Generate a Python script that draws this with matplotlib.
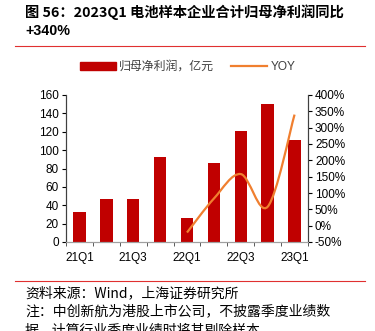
import numpy as np
import matplotlib.pyplot as plt
from matplotlib.path import Path
from matplotlib.patches import PathPatch, Patch
from matplotlib.lines import Line2D

plt.rcParams['font.family'] = ['Liberation Sans', 'Noto Sans CJK SC', 'DejaVu Sans']

quarters = ["21Q1", "21Q2", "21Q3", "21Q4", "22Q1", "22Q2", "22Q3", "22Q4", "23Q1"]
profit = [33, 47, 47, 93, 26, 86, 121, 150, 111]
yoy_quarters = ["22Q1", "22Q2", "22Q3", "22Q4", "23Q1"]
yoy = [-21, 83, 158, 58, 340]

fig = plt.figure(figsize=(3.75, 3.31), dpi=100)
ax = fig.add_axes([66 / 375, 1 - 242 / 331, (308 - 66) / 375, (242 - 95) / 331])
ax2 = ax.twinx()

x = np.arange(len(quarters))
ax.bar(x, profit, width=0.46, color="#C00000", zorder=2)
ax.set_xlim(-0.5, len(quarters) - 0.5)
ax.set_ylim(0, 160)
ax.set_yticks(range(0, 161, 20))

# smoothed yoy line (catmull-rom -> bezier)
xi = [quarters.index(q) for q in yoy_quarters]
pts = np.column_stack([xi, yoy]).astype(float)
verts = [pts[0]]
codes = [Path.MOVETO]
for i in range(len(pts) - 1):
    p0 = pts[i - 1] if i > 0 else pts[i]
    p1, p2 = pts[i], pts[i + 1]
    p3 = pts[i + 2] if i + 2 < len(pts) else pts[i + 1]
    c1 = p1 + (p2 - p0) / 6
    c2 = p2 - (p3 - p1) / 6
    verts += [c1, c2, p2]
    codes += [Path.CURVE4] * 3
ax2.add_patch(PathPatch(Path(verts, codes), fill=False, edgecolor="#F07F2F", lw=1.6, zorder=3))
ax2.set_ylim(-50, 400)
ax2.set_yticks(range(-50, 401, 50))
ax2.set_yticklabels([f"{v}%" for v in range(-50, 401, 50)])

ax.set_xticks(x[::2])
ax.set_xticklabels(quarters[::2])
ax.set_xticks(np.arange(-0.5, len(quarters), 1), minor=True)
ax.tick_params(axis="x", which="major", length=0, labelsize=8.5, pad=7)
ax.tick_params(axis="x", which="minor", length=3, color="#404040", direction="out")
ax.tick_params(axis="y", labelsize=8.5, length=3, pad=2)
ax2.tick_params(axis="y", labelsize=8.5, length=3, pad=2)

for a in (ax, ax2):
    a.spines["top"].set_visible(False)
    a.spines["bottom"].set_color("#A0A0A0")
    a.spines["left"].set_color("#404040")
    a.spines["right"].set_color("#404040")

handles = [Patch(color="#C00000"), Line2D([], [], color="#F07F2F", lw=1.6)]
fig.legend(handles, ["归母净利润，亿元", "YOY"], loc="center", bbox_to_anchor=(0.5, 1 - 67 / 331),
           ncol=2, frameon=False, fontsize=8.6, handlelength=3.0, handleheight=0.7,
           columnspacing=1.4, handletextpad=0.3, labelcolor="#404040")

fig.text(25 / 375, 1 - 12 / 331, "图 56：2023Q1 电池样本企业合计归母净利润同比", fontsize=10.3,
         fontweight="bold", va="center", family=['Noto Sans CJK SC'])
fig.text(25 / 375, 1 - 31 / 331, "+340%", fontsize=10.3, fontweight="bold", va="center")
fig.add_artist(Line2D([15 / 375, 365 / 375], [1 - 46 / 331] * 2, color="#E03030", lw=0.8))
fig.add_artist(Line2D([15 / 375, 365 / 375], [1 - 281 / 331] * 2, color="#E03030", lw=0.8))

fig.text(25 / 375, 1 - 293 / 331, "资料来源：Wind，上海证券研究所", fontsize=10, va="center",
         family=['Noto Sans CJK SC'], style="italic")
fig.text(25 / 375, 1 - 311 / 331, "注：中创新航为港股上市公司，不披露季度业绩数", fontsize=10,
         va="center", family=['Noto Sans CJK SC'], style="italic")
fig.text(25 / 375, 1 - 330 / 331, "据，计算行业季度业绩时将其剔除样本", fontsize=10,
         va="center", family=['Noto Sans CJK SC'], style="italic")

fig.savefig("out.png", dpi=100)
